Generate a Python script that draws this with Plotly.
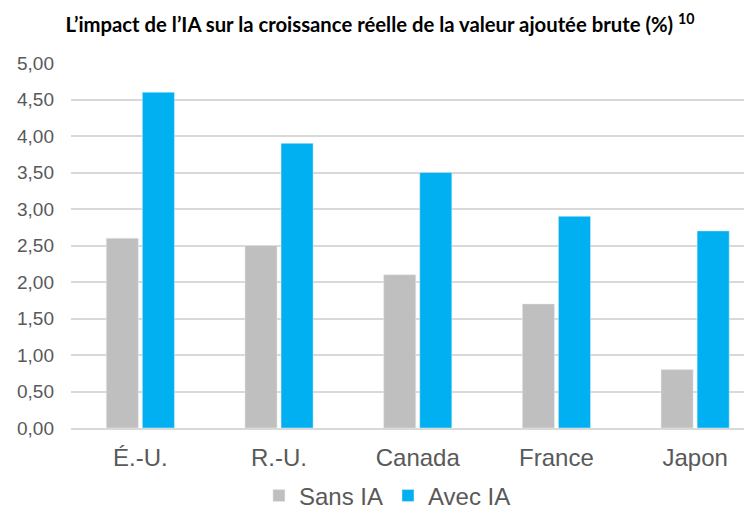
import plotly.graph_objects as go

categories = ["É.-U.", "R.-U.", "Canada", "France", "Japon"]
sans_ia = [2.6, 2.5, 2.1, 1.7, 0.8]
avec_ia = [4.6, 3.9, 3.5, 2.9, 2.7]
tick_vals = [0, 0.5, 1, 1.5, 2, 2.5, 3, 3.5, 4, 4.5, 5]
tick_text = ["0,00", "0,50", "1,00", "1,50", "2,00", "2,50", "3,00", "3,50", "4,00", "4,50", "5,00"]
title = "L’impact de l’IA sur la croissance réelle de la valeur ajoutée brute (%) <sup>10</sup>"

fig = go.Figure()
fig.add_trace(go.Bar(name="Sans IA", x=categories, y=sans_ia, marker_color="#BFBFBF"))
fig.add_trace(go.Bar(name="Avec IA", x=categories, y=avec_ia, marker_color="#00B0F0"))

# page body has an 8px default margin, so the figure is 8px smaller each way
fig.update_layout(
    width=744, height=502,
    margin=dict(l=63, r=0, t=55, b=82),
    paper_bgcolor="white", plot_bgcolor="white",
    barmode="group", bargap=0.48, bargroupgap=0.11,
    title=dict(text=title, x=0.5, xanchor="center", y=0.966, yanchor="middle",
               font=dict(family="Lato", size=20.3, color="#000000", weight="bold")),
    font=dict(family="Liberation Sans, Arial", color="#595959"),
    legend=dict(orientation="h", x=0.51, xref="container", xanchor="center",
                y=0.028, yref="container", yanchor="middle",
                font=dict(size=24, color="#595959"), itemwidth=30,
                traceorder="normal"),
    showlegend=True,
)
fig.update_xaxes(range=[-0.5, 4.41], showline=True, linecolor="#D9D9D9", linewidth=2,
                 tickfont=dict(size=24, color="#595959"), ticks="", ticklabelstandoff=7)
fig.update_yaxes(range=[0, 5], tickvals=tick_vals, ticktext=tick_text,
                 showgrid=True, gridcolor="#D9D9D9", gridwidth=2, zeroline=False,
                 tickfont=dict(size=19, color="#595959"), ticks="", ticklabelstandoff=16)

fig.write_html("out.html")
